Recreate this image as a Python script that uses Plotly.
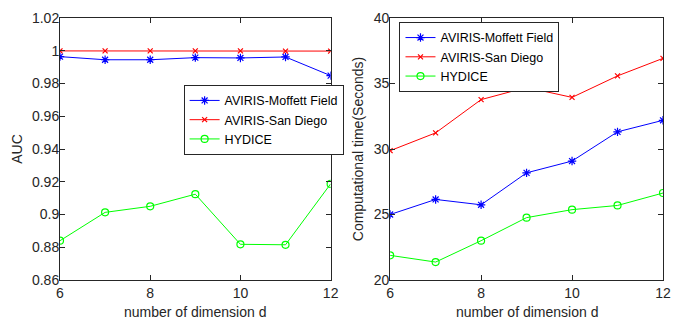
import plotly.graph_objects as go

dims = [6, 7, 8, 9, 10, 11, 12]
series_names = ["AVIRIS-Moffett Field", "AVIRIS-San Diego", "HYDICE"]

auc_moffett = [0.9964, 0.9945, 0.9945, 0.9958, 0.9956, 0.9962, 0.9848]
auc_sandiego = [0.9999, 0.9999, 0.9999, 0.9999, 0.9999, 0.9998, 0.9998]
auc_hydice = [0.8840, 0.9013, 0.9050, 0.9124, 0.8818, 0.8815, 0.9187]

time_moffett = [25.0, 26.15, 25.74, 28.18, 29.08, 31.31, 32.19]
time_sandiego = [29.87, 31.23, 33.77, 34.70, 33.94, 35.58, 36.92]
time_hydice = [21.88, 21.37, 23.0, 24.76, 25.37, 25.69, 26.64]

x_ticks = [6, 8, 10, 12]
auc_ticks = [0.86, 0.88, 0.90, 0.92, 0.94, 0.96, 0.98, 1.00, 1.02]
auc_ticktext = ["0.86", "0.88", "0.9", "0.92", "0.94", "0.96", "0.98", "1", "1.02"]
time_ticks = [20, 25, 30, 35, 40]
x_title = "number of dimension d"

colors = ["#0000FF", "#FF0000", "#00FF00"]
symbols = ["asterisk-open", "x-thin-open", "circle-open"]
sizes = [7, 5, 7]

FONT = "Arial, Liberation Sans, sans-serif"
fig = go.Figure()

for i, ys in enumerate([auc_moffett, auc_sandiego, auc_hydice]):
    fig.add_trace(go.Scatter(
        x=dims, y=ys, name=series_names[i], mode="lines+markers",
        line=dict(color=colors[i], width=1),
        marker=dict(symbol=symbols[i], size=sizes[i], color=colors[i],
                    line=dict(color=colors[i], width=1.2)),
        xaxis="x", yaxis="y", legend="legend"))

for i, ys in enumerate([time_moffett, time_sandiego, time_hydice]):
    fig.add_trace(go.Scatter(
        x=dims, y=ys, name=series_names[i], mode="lines+markers",
        line=dict(color=colors[i], width=1),
        marker=dict(symbol=symbols[i], size=sizes[i], color=colors[i],
                    line=dict(color=colors[i], width=1.2)),
        xaxis="x2", yaxis="y2", legend="legend2"))

axcommon = dict(showline=True, linecolor="#262626", linewidth=1, mirror="ticks",
                ticks="inside", ticklen=5, tickcolor="#262626", showgrid=False,
                zeroline=False, automargin=False,
                tickfont=dict(family=FONT, size=14, color="#262626"))

fig.update_layout(
    width=681, height=320,
    margin=dict(l=60, r=18, t=18, b=40),
    paper_bgcolor="white", plot_bgcolor="white",
    font=dict(family=FONT, size=13, color="#262626"),
    xaxis=dict(domain=[0, 0.4488], range=[6, 12], tickvals=x_ticks, ticklabelstandoff=0,
               anchor="y", **axcommon),
    yaxis=dict(range=[0.86, 1.02], tickvals=auc_ticks, ticktext=auc_ticktext,
               ticklabelstandoff=-3,
               title=dict(text="AUC", standoff=6, font=dict(size=14)), anchor="x", **axcommon),
    xaxis2=dict(domain=[0.5475, 1], range=[6, 12], tickvals=x_ticks, ticklabelstandoff=0,
                anchor="y2", **axcommon),
    yaxis2=dict(range=[20, 40], tickvals=time_ticks, ticklabelstandoff=-3,
                title=dict(text="Computational time(Seconds)", standoff=6, font=dict(size=14)),
                anchor="x2", **axcommon),
    legend=dict(x=0.205, y=0.745, xanchor="left", yanchor="top",
                bordercolor="#262626", borderwidth=1, bgcolor="white",
                font=dict(family=FONT, size=12.5, color="#000"),
                itemwidth=30, tracegroupgap=0),
    legend2=dict(x=0.563, y=0.985, xanchor="left", yanchor="top",
                 bordercolor="#262626", borderwidth=1, bgcolor="white",
                 font=dict(family=FONT, size=12.5, color="#000"),
                 itemwidth=30, tracegroupgap=0),
)

for xr in ["x domain", "x2 domain"]:
    fig.add_annotation(text=x_title, xref=xr, x=0.5, yref="paper", y=0,
                       yanchor="top", yshift=-22, showarrow=False,
                       font=dict(family=FONT, size=14, color="#262626"))

fig.write_html("out.html", config={"displayModeBar": False},
               post_script="document.body.style.margin='0px';")
